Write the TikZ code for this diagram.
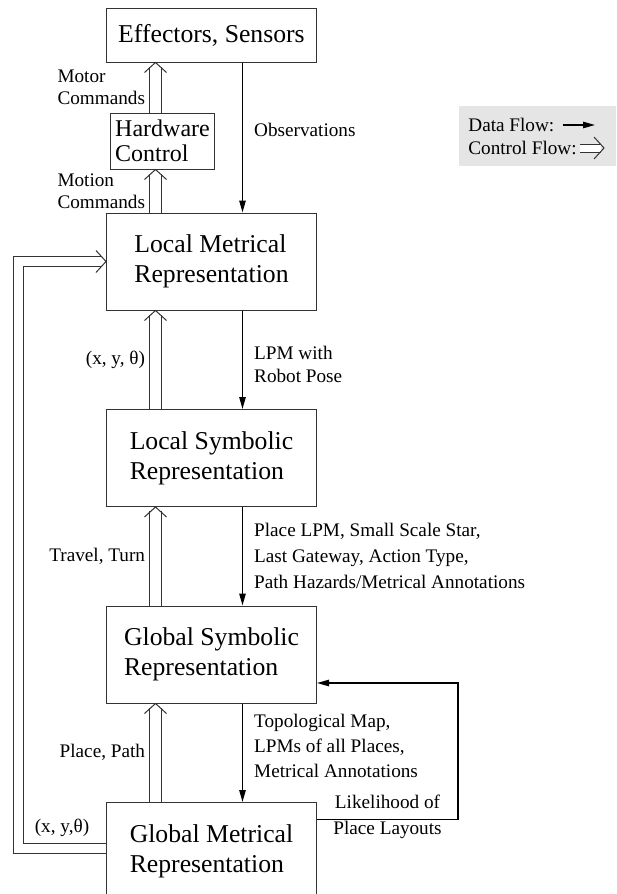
\documentclass[tikz,border=0pt]{standalone}
\usepackage{fontspec}
\setmainfont{Liberation Serif}
\usetikzlibrary{positioning, arrows.meta, decorations.markings}

\newcommand{\boxfont}{\fontsize{12.85pt}{15pt}\selectfont}
\newcommand{\labelfont}{\fontsize{9.6pt}{11.5pt}\selectfont}

\begin{document}
\begin{tikzpicture}[
  x=0.5pt, y=-0.5pt,
  node distance=49.25pt,
  bigbox/.style={draw=black!80, line width=0.5pt, minimum width=105pt, minimum height=48.5pt, align=left, font=\boxfont},
  hwbox/.style={draw=black!80, line width=0.5pt, minimum width=52pt, minimum height=28pt, inner sep=2pt, align=left, font=\fontsize{12pt}{12.5pt}\selectfont},
  datalabel/.style={right=4pt, inner sep=1.5pt, align=left, font=\labelfont},
  ctrllabel/.style={left=3.5pt, inner sep=1.5pt, align=left, font=\labelfont},
  data/.style={line width=0.7pt, -{Triangle[length=6pt, width=3.2pt]}},
  ctrl/.style={draw=black!80, line width=0.5pt, double, double distance=5.5pt, shorten >=2.2pt,
    decoration={markings, mark=at position 1 with {\draw [draw=black!80, line width=0.5pt, shorten >=0pt] (-5pt,5.5pt) -- (0pt,0pt) -- (-5pt,-5.5pt);}},
    postaction={decorate}},
  legendbox/.style={fill=black!10, minimum width=78.5pt, minimum height=30pt, inner sep=0pt},
]
  \useasboundingbox (0,0) rectangle (616,894);

  % Layers
  \node (eff) [bigbox, minimum height=27pt] at (211.5,35) {Effectors, Sensors};
  \node (hw) [hwbox, below=25pt of eff.south, xshift=-24.5pt] {Hardware\\Control};
  \node (lmr) [bigbox, below=75pt of eff] {Local Metrical\\Representation};
  \node (lsr) [bigbox, below=of lmr] {Local Symbolic\\Representation};
  \node (gsr) [bigbox, below=of lsr] {Global Symbolic\\Representation};
  \node (gmr) [bigbox, below=of gsr] {Global Metrical\\Representation};

  % Legend
  \node (legend) [legendbox] at (537.5,136) {};
  \node (datakey) [anchor=west, inner sep=1.5pt, font=\labelfont] at (465,125) {Data Flow:};
  \node (ctrlkey) [anchor=west, inner sep=1.5pt, font=\labelfont] at (465,148) {Control Flow:};
  \coordinate (dataend) at (595,125);
  \coordinate (ctrlend) at (604,148);
  \draw [data] ([xshift=2.5pt]datakey.east) -- (dataend);
  \draw [ctrl, double distance=3.5pt, shorten >=1.6pt] (ctrlkey.east) -- (ctrlend);

  % Data flow (down)
  \draw [data] ([xshift=15.5pt]eff.south) -- ([xshift=15.5pt]lmr.north) node [datalabel, pos=0.45] {Observations};
  \draw [data] ([xshift=15.5pt]lmr.south) -- ([xshift=15.5pt]lsr.north) node [datalabel, pos=0.55] {LPM with\\Robot Pose};
  \draw [data] ([xshift=15.5pt]lsr.south) -- ([xshift=15.5pt]gsr.north) node [datalabel, midway, font=\fontsize{9.6pt}{13pt}\selectfont] {Place LPM, Small Scale Star,\\Last Gateway, Action Type,\\Path Hazards/Metrical Annotations};
  \draw [data] ([xshift=15.5pt]gsr.south) -- ([xshift=15.5pt]gmr.north) node [datalabel, pos=0.43, font=\fontsize{9.6pt}{12.5pt}\selectfont] {Topological Map,\\ LPMs of all Places,\\ Metrical Annotations};

  % Control flow (up)
  \draw [ctrl] ([xshift=-28pt]lmr.north) -- ([xshift=-3.5pt]hw.south) node [ctrllabel, midway, font=\fontsize{9.6pt}{11pt}\selectfont] {Motion\\Commands};
  \draw [ctrl] ([xshift=-3.5pt]hw.north) -- ([xshift=-28pt]eff.south) node [ctrllabel, midway, font=\fontsize{9.6pt}{11pt}\selectfont] {Motor\\Commands};
  \foreach \src/\dst/\txt in {lsr/lmr/{(x, y, θ)}, gsr/lsr/{Travel, Turn}, gmr/gsr/{Place, Path}} {
    \draw [ctrl] ([xshift=-28pt]\src.north) -- ([xshift=-28pt]\dst.south) node [ctrllabel, midway] {\txt};
  }

  % Feedback loops
  \draw [ctrl, double distance=4.5pt, shorten >=1.9pt] ([yshift=1.5pt]gmr.west) -- ++(-44pt,0) node [midway, above=4pt, inner sep=1.5pt, font=\labelfont] {(x, y,θ)} |- (lmr.west);
  \draw [data] ([yshift=-8.75pt]gmr.north east) -- ++(70.5pt,0) node [midway, above=3pt, inner sep=2pt, font=\labelfont] {Likelihood of} node [midway, below=-1.5pt, inner sep=2pt, font=\labelfont] {Place Layouts} |- ([yshift=-14.25pt]gsr.east);

\end{tikzpicture}
\end{document}
